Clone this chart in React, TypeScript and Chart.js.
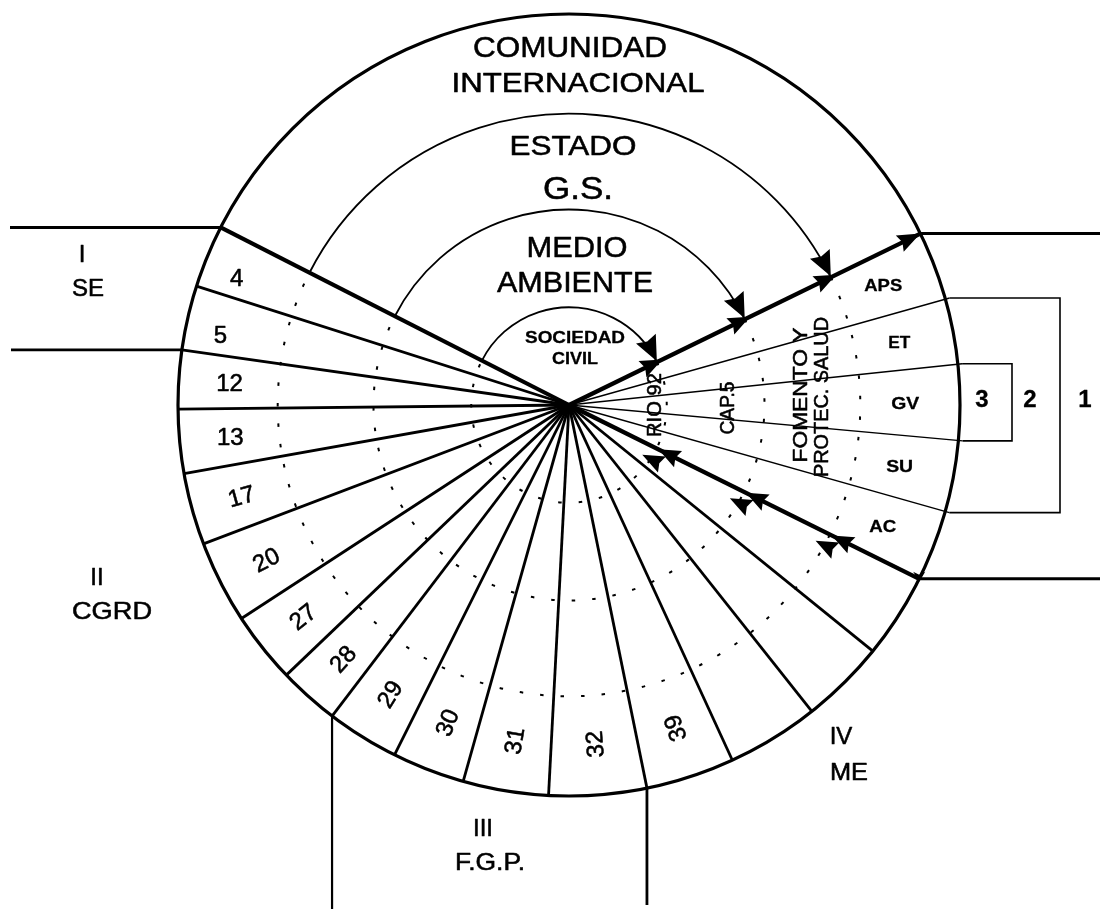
import React, { useEffect, useRef } from "react";
import { Chart, registerables } from "chart.js";

Chart.register(...registerables);

// ---------------- data ----------------
// Angles (degrees, counter-clockwise from the right-hand horizontal) of the radial sector boundaries
const boundaryAngles = [
  153.0, 162.3, 171.9, 180.6, 190.1, 200.8, 213.1, 223.7, 232.7, 243.5, 254.3,
  267.0, 281.5, 294.7, 308.4, 321.0, 333.6, 344.2, 354.8, 366.0, 375.7, 386.0,
];
// Label of each sector (between consecutive boundaries)
const sectorLabels = [
  "4", "5", "12", "13", "17", "20", "27", "28", "29", "30", "31", "32", "39",
  "", "", "", "AC", "SU", "GV", "ET", "APS",
];
// Concentric rings (fraction of the outer radius) and their names
const ringRadii = [0.25, 0.5, 0.745, 1];
const ringLabels = [
  ["SOCIEDAD", "CIVIL"],
  ["MEDIO", "AMBIENTE"],
  ["ESTADO", "G.S."],
  ["COMUNIDAD", "INTERNACIONAL"],
];
// Outer groups
const groupNumerals = ["I", "II", "III", "IV"];
const groupCodes = ["SE", "CGRD", "F.G.P.", "ME"];
// Right-hand bracket levels
const bracketLevels = ["3", "2", "1"];
// Band labels written along the right half
const bandLabels = [["RIO 92"], ["CAP.5"], ["FOMENTO Y", "PROTEC. SALUD"]];

// ---------------- layout (frame units) ----------------
const W = 1100;
const H = 909;
const CX = 569;
const CY = 405;
const R = 391;
const HEAVY = [0, 16, 21];
const THIN = [17, 18, 19, 20];
const UP_ARROW_LINE = 21;
const DOWN_ARROW_LINE = 16;
const FONT = '"Liberation Sans", Arial, Helvetica, sans-serif';

const rad = (d: number) => (d * Math.PI) / 180;
const pt = (deg: number, r: number) => ({
  x: CX + r * Math.cos(rad(deg)),
  y: CY - r * Math.sin(rad(deg)),
});

function seg(points: { x: number; y: number }[], width: number) {
  return {
    data: points,
    showLine: true,
    borderColor: "#000",
    backgroundColor: "#000",
    borderWidth: width,
    pointRadius: 0,
    pointHoverRadius: 0,
    fill: false,
    tension: 0,
    borderCapStyle: "butt" as const,
    borderJoinStyle: "miter" as const,
  };
}

function buildDatasets() {
  const ds: any[] = [];
  const center = { x: CX, y: CY };
  boundaryAngles.forEach((a, i) => {
    const isThin = THIN.includes(i);
    const isHeavy = HEAVY.includes(i);
    const end = pt(a, isThin ? R * 1.011 : R);
    ds.push(seg([center, end], isHeavy ? 4.2 : isThin ? 1.4 : 2.8));
  });
  // connectors to the outer labels
  const b0 = pt(boundaryAngles[0], R);
  const b2 = pt(boundaryAngles[2], R);
  const b8 = pt(boundaryAngles[8], R);
  const b12 = pt(boundaryAngles[12], R);
  const b16 = pt(boundaryAngles[16], R);
  const b21 = pt(boundaryAngles[21], R);
  ds.push(seg([b0, { x: 10, y: b0.y }], 2.8));
  ds.push(seg([b2, { x: 11, y: b2.y }], 2.8));
  ds.push(seg([b21, { x: W, y: b21.y }], 3));
  ds.push(seg([b16, { x: W, y: b16.y }], 3));
  ds.push(seg([b8, { x: b8.x, y: H }], 2.2));
  ds.push(seg([b12, { x: b12.x, y: H - 4 }], 2.8));
  // right brackets
  const rt = R * 1.011;
  const p20 = pt(boundaryAngles[20], rt);
  const p17 = pt(boundaryAngles[17], rt);
  const p19 = pt(boundaryAngles[19], rt);
  const p18 = pt(boundaryAngles[18], rt);
  ds.push(seg([p20, { x: 1060, y: p20.y }, { x: 1060, y: p17.y }, p17], 1.6));
  ds.push(seg([p19, { x: 1012, y: p19.y }, { x: 1012, y: p18.y }, p18], 1.6));
  return ds;
}

function arrow(ctx: CanvasRenderingContext2D, tx: number, ty: number, dx: number, dy: number, L = 18, hw = 7) {
  const bx = tx - dx * L;
  const by = ty - dy * L;
  const nx = -dy;
  const ny = dx;
  ctx.beginPath();
  ctx.moveTo(tx, ty);
  ctx.lineTo(bx + nx * hw, by + ny * hw);
  ctx.lineTo(bx + dx * 3, by + dy * 3);
  ctx.lineTo(bx - nx * hw, by - ny * hw);
  ctx.closePath();
  ctx.fill();
}

function text(
  ctx: CanvasRenderingContext2D,
  s: string,
  x: number,
  y: number,
  size: number,
  opts: { bold?: boolean; width?: number; rot?: number } = {}
) {
  ctx.save();
  ctx.translate(x, y);
  if (opts.rot) ctx.rotate(rad(opts.rot));
  ctx.font = `${opts.bold ? "bold " : ""}${size}px ${FONT}`;
  ctx.textAlign = "center";
  ctx.textBaseline = "alphabetic";
  if (opts.width) {
    const w = ctx.measureText(s).width;
    if (w > 0) ctx.scale(opts.width / w, 1);
  }
  ctx.fillStyle = "#000";
  ctx.strokeStyle = "#000";
  ctx.lineWidth = opts.bold ? 0.3 : 0.55;
  ctx.lineJoin = "round";
  ctx.fillText(s, 0, size * 0.358);
  ctx.strokeText(s, 0, size * 0.358);
  ctx.restore();
}

const diagramPlugin = {
  id: "diagram",
  beforeDraw(chart: any) {
    const ctx = chart.ctx as CanvasRenderingContext2D;
    ctx.save();
    ctx.fillStyle = "#fff";
    ctx.fillRect(0, 0, chart.width, chart.height);
    ctx.restore();
  },
  afterDatasetsDraw(chart: any) {
    const ctx = chart.ctx as CanvasRenderingContext2D;
    const xs = chart.scales.x;
    const ys = chart.scales.y;
    const P = (p: { x: number; y: number }) => ({ x: xs.getPixelForValue(p.x), y: ys.getPixelForValue(p.y) });
    const c = P({ x: CX, y: CY });
    const k = (xs.getPixelForValue(CX + R) - c.x) / R;
    const Rp = R * k;

    ctx.save();
    ctx.strokeStyle = "#000";
    ctx.fillStyle = "#000";

    // outer circle
    ctx.lineWidth = 3.2;
    ctx.beginPath();
    ctx.arc(c.x, c.y, Rp, 0, Math.PI * 2);
    ctx.stroke();

    const aL = boundaryAngles[0];
    const aUp = boundaryAngles[UP_ARROW_LINE] - 360;
    const aDn = boundaryAngles[DOWN_ARROW_LINE];

    // inner rings: solid in the upper area, dotted in the sectors
    ringRadii.slice(0, 3).forEach((f) => {
      const rr = Rp * f;
      ctx.setLineDash([]);
      ctx.lineWidth = 1.8;
      ctx.beginPath();
      ctx.arc(c.x, c.y, rr, rad(-aL), rad(-aUp), false);
      ctx.stroke();
      ctx.setLineDash([3.5, 17]);
      ctx.lineWidth = 2;
      ctx.beginPath();
      ctx.arc(c.x, c.y, rr, rad(-aUp), rad(360 - aL), false);
      ctx.stroke();
    });
    ctx.setLineDash([]);

    // arrowheads on the upper heavy line (outward) and arc ends
    const ux = Math.cos(rad(aUp));
    const uy = -Math.sin(rad(aUp));
    ringRadii.forEach((f, i) => {
      const rr = Rp * f;
      const tx = c.x + ux * rr;
      const ty = c.y + uy * rr;
      if (i < 3) {
        const t = rad(-aUp);
        arrow(ctx, tx, ty - 1, -Math.sin(t), Math.cos(t), 25, 11);
        arrow(ctx, tx + ux * 6, ty + uy * 6, ux, uy, 22, 9);
      } else {
        arrow(ctx, tx, ty, ux, uy, 23, 9);
      }
    });

    // double arrowheads on the lower heavy line (inward)
    const vx = Math.cos(rad(aDn));
    const vy = -Math.sin(rad(aDn));
    const nx = -vy;
    const ny = vx;
    ringRadii.slice(0, 3).forEach((f) => {
      const rr = Rp * f;
      arrow(ctx, c.x + vx * (rr + 2), c.y + vy * (rr + 2), -vx, -vy, 22, 9);
      arrow(
        ctx,
        c.x + vx * (rr - 10) + nx * 12,
        c.y + vy * (rr - 10) + ny * 12,
        -vx,
        -vy,
        22,
        9
      );
    });
    // small mark at the end of the lower heavy line
    arrow(ctx, c.x + vx * Rp, c.y + vy * Rp + 3, 0, 1, 10, 6);

    // sector labels
    sectorLabels.forEach((lab, i) => {
      if (!lab) return;
      const m = (boundaryAngles[i] + boundaryAngles[i + 1]) / 2 + (i < 2 ? 1.4 : 0);
      const isRight = i >= 16;
      const f = i < 2 ? 0.91 : isRight ? 0.86 : 0.87;
      const p = P(pt(m, R * f));
      if (isRight) {
        const widths: Record<string, number> = { APS: 38, ET: 22, GV: 28, SU: 27, AC: 27 };
        text(ctx, lab, p.x, p.y, 17, { bold: true, width: widths[lab] });
      } else {
        const rot = m > 190 ? 180 - m : 0;
        text(ctx, lab, p.x, p.y, 24, { rot });
      }
    });

    // ring labels
    const ringPos = [
      [[575, 337, 17, 100, true], [575, 358, 17, 46, true]],
      [[577, 246, 30, 101, false], [575, 281, 30, 156, false]],
      [[573, 145, 28, 127, false], [578, 188, 32, 70, false]],
      [[570, 46, 30, 194, false], [578, 82, 28, 253, false]],
    ] as const;
    ringLabels.forEach((lines, i) => {
      lines.forEach((s, j) => {
        const [x, y, size, w, bold] = ringPos[i][j];
        const p = P({ x, y });
        text(ctx, s, p.x, p.y, size, { width: w, bold });
      });
    });

    // group labels
    const groupPos = [
      [[82, 253], [88, 287, 32]],
      [[97, 576], [112, 610, 80]],
      [[483, 827], [490, 861, 70]],
      [[841, 735], [849, 771, 38]],
    ];
    groupNumerals.forEach((s, i) => {
      const p = P({ x: groupPos[i][0][0], y: groupPos[i][0][1] });
      text(ctx, s, p.x, p.y, 24);
      const q = P({ x: groupPos[i][1][0], y: groupPos[i][1][1] });
      text(ctx, groupCodes[i], q.x, q.y, 24, { width: groupPos[i][1][2] });
    });

    // bracket levels
    const levelX = [982, 1030, 1085];
    bracketLevels.forEach((s, i) => {
      const p = P({ x: levelX[i], y: 398 });
      text(ctx, s, p.x, p.y, 24, { bold: true });
    });

    // band labels (vertical, reading upward)
    const bandPos = [
      [[654, 405, 64]],
      [[727, 408, 53]],
      [[800, 395, 135], [821, 397, 160]],
    ];
    bandLabels.forEach((lines, i) => {
      lines.forEach((s, j) => {
        const [x, y, w] = bandPos[i][j];
        const p = P({ x, y });
        text(ctx, s, p.x, p.y, 20, { width: w, rot: -90 });
      });
    });

    ctx.restore();
  },
};

export default function App() {
  const ref = useRef<HTMLCanvasElement>(null);
  useEffect(() => {
    const canvas = ref.current;
    if (!canvas) return;
    const chart = new Chart(canvas, {
      type: "scatter",
      data: { datasets: buildDatasets() },
      options: {
        responsive: false,
        animation: false,
        events: [],
        layout: { padding: 0 },
        plugins: {
          legend: { display: false },
          tooltip: { enabled: false },
          title: { display: false },
        },
        scales: {
          x: { type: "linear", min: 0, max: W, display: false },
          y: { type: "linear", min: 0, max: H, reverse: true, display: false },
        },
      },
      plugins: [diagramPlugin],
    } as any);
    return () => chart.destroy();
  }, []);
  return (
    <div style={{ position: "absolute", left: 0, top: 0, width: W, height: H, background: "#fff" }}>
      <canvas ref={ref} width={W} height={H} style={{ display: "block", width: W, height: H }} />
    </div>
  );
}
